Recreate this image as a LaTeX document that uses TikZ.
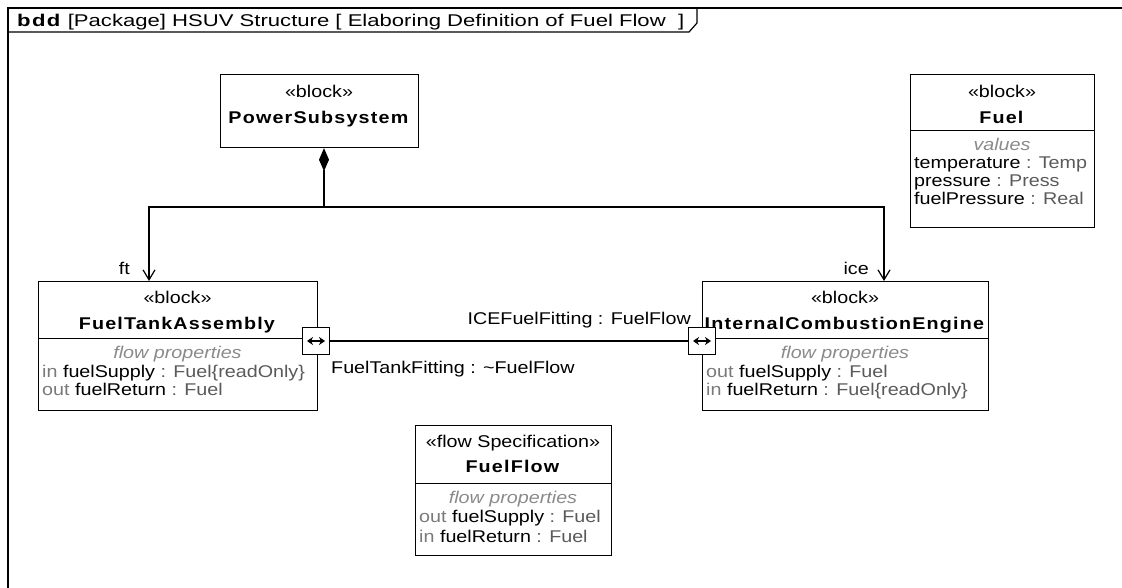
\documentclass[tikz,border=0pt]{standalone}
\usepackage{fontspec}
\setmainfont{Liberation Sans}[FakeStretch=1.16, BoldFeatures={LetterSpace=7}]
\usetikzlibrary{arrows.meta,calc}
\definecolor{kwgray}{HTML}{7A7A7A}
\definecolor{tygray}{HTML}{5A5A5A}
\definecolor{hdgray}{HTML}{8A8A8A}
\tikzset{
  blockbox/.style={draw, line width=1.2pt, anchor=north west, inner sep=0pt},
  txt/.style={anchor=base, inner sep=0pt, font=\fontsize{17}{18}\selectfont},
  ltxt/.style={txt, anchor=base west},
  rtxt/.style={txt, anchor=base east},
  comp/.style={line width=1pt},
  port/.style={draw, fill=white, line width=1.2pt, minimum size=27pt, inner sep=0pt},
  portarrow/.style={line width=1.3pt, {Stealth[length=6pt,width=8pt]}-{Stealth[length=6pt,width=8pt]}},
  conn/.style={line width=1.2pt},
  partarrow/.style={line width=1.2pt, -{Straight Barb[length=10pt,width=12pt]}},
  compose/.style={line width=1.2pt, {Diamond[length=23pt,width=10pt]}-},
}
\newcommand{\kw}[1]{\textcolor{kwgray}{#1}}
\newcommand{\ty}[1]{\textcolor{tygray}{#1}}
\newcommand{\hd}[1]{\textcolor{hdgray}{\itshape #1}}
\begin{document}
\begin{tikzpicture}[x=1pt,y=-1pt]
\useasboundingbox (0,0) rectangle (1122,588);
% frame
\draw[line width=1.4pt] (8,600) |- (1130,8);
\draw[line width=1.2pt] (8,32) -- (689,32) -- (697,23) -- (697,8);
\node[ltxt] (title) at (17,27) {\resizebox{667pt}{\height}{\textbf{bdd} [Package] HSUV Structure [ Elaboring Definition of Fuel Flow \ ]}};

% PowerSubsystem
\node[blockbox, minimum width=198pt, minimum height=73pt] (ps) at (220,74) {};
\node[txt] (psst) at (319,98) {«block»};
\node[txt] (psnm) at (319,124) {\textbf{PowerSubsystem}};

% Fuel
\node[blockbox, minimum width=184pt, minimum height=153pt] (fuel) at (910,74) {};
\node[txt] (fuelst) at (1002,98) {«block»};
\node[txt] (fuelnm) at (1002,124) {\textbf{Fuel}};
\draw[comp] (fuel.west |- 0,131) -- (fuel.east |- 0,131);
\node[txt] (fuelhd) at (1002,151) {\hd{values}};
\node[ltxt] (fuel1) at (914,169) {temperature \ty{: Temp}};
\node[ltxt] (fuel2) at (914,187) {pressure \ty{: Press}};
\node[ltxt] (fuel3) at (914,205) {fuelPressure \ty{: Real}};

% FuelTankAssembly
\node[blockbox, minimum width=279pt, minimum height=129pt] (fta) at (38,281) {};
\node[txt] (ftast) at (177.5,303) {«block»};
\node[txt] (ftanm) at (177.5,329) {\textbf{FuelTankAssembly}};
\draw[comp] (fta.west |- 0,338) -- (fta.east |- 0,338);
\node[txt] (ftahd) at (177.5,358) {\hd{flow properties}};
\node[ltxt] (fta1) at (42,377) {\kw{in} fuelSupply \ty{: Fuel\{readOnly\}}};
\node[ltxt] (fta2) at (42,395) {\kw{out} fuelReturn \ty{: Fuel}};

% InternalCombustionEngine
\node[blockbox, minimum width=286pt, minimum height=129pt] (ice) at (702,281) {};
\node[txt] (icest) at (845,303) {«block»};
\node[txt] (icenm) at (845,329) {\textbf{InternalCombustionEngine}};
\draw[comp] (ice.west |- 0,338) -- (ice.east |- 0,338);
\node[txt] (icehd) at (845,358) {\hd{flow properties}};
\node[ltxt] (ice1) at (706,377) {\kw{out} fuelSupply \ty{: Fuel}};
\node[ltxt] (ice2) at (706,395) {\kw{in} fuelReturn \ty{: Fuel\{readOnly\}}};

% FuelFlow
\node[blockbox, minimum width=196pt, minimum height=130pt] (ff) at (415,425) {};
\node[txt] (ffst) at (513,447) {«flow Specification»};
\node[txt] (ffnm) at (513,472) {\textbf{FuelFlow}};
\draw[comp] (ff.west |- 0,483) -- (ff.east |- 0,483);
\node[txt] (ffhd) at (513,503) {\hd{flow properties}};
\node[ltxt] (ff1) at (419,522) {\kw{out} fuelSupply \ty{: Fuel}};
\node[ltxt] (ff2) at (419,542) {\kw{in} fuelReturn \ty{: Fuel}};

% composition
\coordinate (j) at (324,207);
\coordinate (ftx) at (149,0);
\coordinate (icex) at (884,0);
\draw[compose] (j |- ps.south) -- (j);
\draw[partarrow] (j) -| (ftx |- fta.north);
\draw[partarrow] (j) -| (icex |- ice.north);
\node[rtxt] (ftlbl) at (130,274) {ft};
\node[rtxt] (icelbl) at (869,274) {ice};

% ports and connector
\node[port] (ftp) at (316,341) {};
\node[port] (icep) at (702,341) {};
\draw[conn] (ftp.east) -- (icep.west);
\draw[portarrow] ($(ftp.center)+(-9,0)$) -- ($(ftp.center)+(9,0)$);
\draw[portarrow] ($(icep.center)+(-9,0)$) -- ($(icep.center)+(9,0)$);
\node[rtxt] (icefit) at (691,324) {ICEFuelFitting : FuelFlow};
\node[ltxt] (ftafit) at (331,373) {FuelTankFitting : \textasciitilde FuelFlow};
\end{tikzpicture}
\end{document}
